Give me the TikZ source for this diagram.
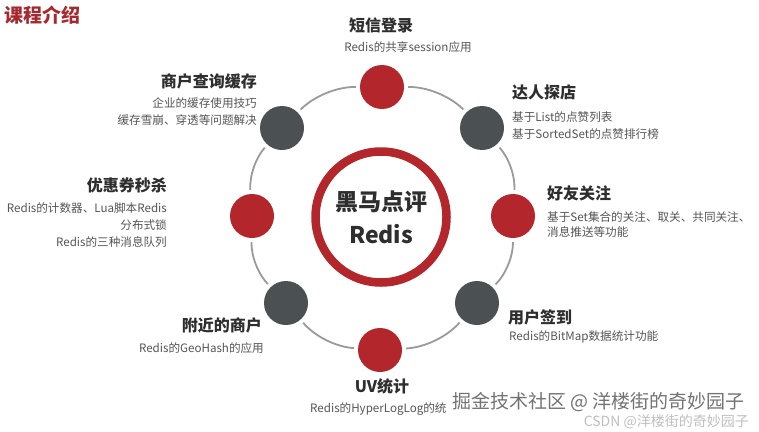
\documentclass[tikz,border=0pt]{standalone}
\usepackage{fontspec}
\setmainfont{Noto Sans CJK SC}
\definecolor{dotred}{HTML}{B3262B}
\definecolor{dotgray}{HTML}{4B5052}
\definecolor{titlec}{HTML}{A52A2F}
\definecolor{headc}{HTML}{2E2E2E}
\definecolor{bodyc}{HTML}{555555}
\definecolor{arcc}{HTML}{9A9A9A}
\begin{document}
\begin{tikzpicture}[x=1pt,y=-1pt,
  dot/.style={circle,minimum size=44pt,inner sep=0pt},
  reddot/.style={dot,fill=dotred},
  graydot/.style={dot,fill=dotgray},
  head/.style={font=\fontsize{16}{19}\selectfont\bfseries,text=headc,inner sep=0pt},
  body/.style={font=\fontsize{11.6}{17}\selectfont,text=bodyc,inner sep=0pt},
  link/.style={draw=arcc,line width=1.8pt,shorten <=4pt,shorten >=4pt,bend left=22.5,looseness=0.885}]
\useasboundingbox[fill=white] (0,0) rectangle (759,431);
% title
\node[anchor=west,inner sep=0pt,font=\fontsize{19}{22}\selectfont\bfseries,text=titlec] (title) at (4,15) {课程介绍};
% centre
\node[circle,draw=dotred,line width=8.5pt,minimum size=131pt,inner sep=0pt] (core) at (381,217) {};
\node[inner sep=0pt,font=\fontsize{23}{28}\selectfont\bfseries,text=headc] (coret) at (381,202) {黑马点评};
\node[inner sep=0pt,font=\fontsize{23}{28}\selectfont\bfseries,text=headc] (cores) at (381,234) {Redis};
% dots
\node[reddot] (sms) at (382,87) {};
\node[graydot] (talent) at (482,128) {};
\node[reddot] (friend) at (513,216) {};
\node[graydot] (sign) at (477,303) {};
\node[reddot] (uv) at (380,350) {};
\node[graydot] (near) at (286,303) {};
\node[reddot] (coupon) at (252,216) {};
\node[graydot] (shop) at (282,128) {};
% arcs
\draw[link] (sms) to (talent);
\draw[link] (talent) to (friend);
\draw[link] (friend) to (sign);
\draw[link] (sign) to (uv);
\draw[link] (uv) to (near);
\draw[link] (near) to (coupon);
\draw[link] (coupon) to (shop);
\draw[link] (shop) to (sms);
% labels
\node[head] (smsh) at (381,25) {短信登录};
\node[body] (smsb) at (408,47) {Redis的共享session应用};
\node[head,anchor=west] (talenth) at (512,92) {达人探店};
\node[body,anchor=west,align=left] (talentb) at (512,125.5) {基于List的点赞列表\\基于SortedSet的点赞排行榜};
\node[head,anchor=west] (friendh) at (547,193) {好友关注};
\node[body,anchor=west,align=left,font=\fontsize{11.6}{15}\selectfont] (friendb) at (547,225) {基于Set集合的关注、取关、共同关注、\\消息推送等功能};
\node[head,anchor=west] (signh) at (508,317) {用户签到};
\node[body,anchor=west] (signb) at (509,337) {Redis的BitMap数据统计功能};
\node[head] (uvh) at (382,386) {UV统计};
\node[body,anchor=west] (uvb) at (310,409) {Redis的HyperLogLog的统};
\node[head,anchor=east] (nearh) at (262,325) {附近的商户};
\node[body,anchor=east] (nearb) at (264,348) {Redis的GeoHash的应用};
\node[head,anchor=east] (couponh) at (167,185) {优惠券秒杀};
\node[body,anchor=east,align=right] (couponb) at (167,225) {Redis的计数器、Lua脚本Redis\\分布式锁\\Redis的三种消息队列};
\node[head,anchor=east] (shoph) at (257,81) {商户查询缓存};
\node[body,anchor=east,align=right] (shopb) at (257,111.5) {企业的缓存使用技巧\\缓存雪崩、穿透等问题解决};
% watermarks
\node[anchor=east,inner sep=0pt,font=\fontsize{14}{17}\selectfont,text=black!25] (wm2) at (749,422) {CSDN @洋楼街的奇妙园子};
\node[anchor=west,inner sep=0pt,font=\fontsize{19}{22}\selectfont,text=black!55] (wm1) at (452,402) {掘金技术社区 @ 洋楼街的奇妙园子};
\end{tikzpicture}
\end{document}
